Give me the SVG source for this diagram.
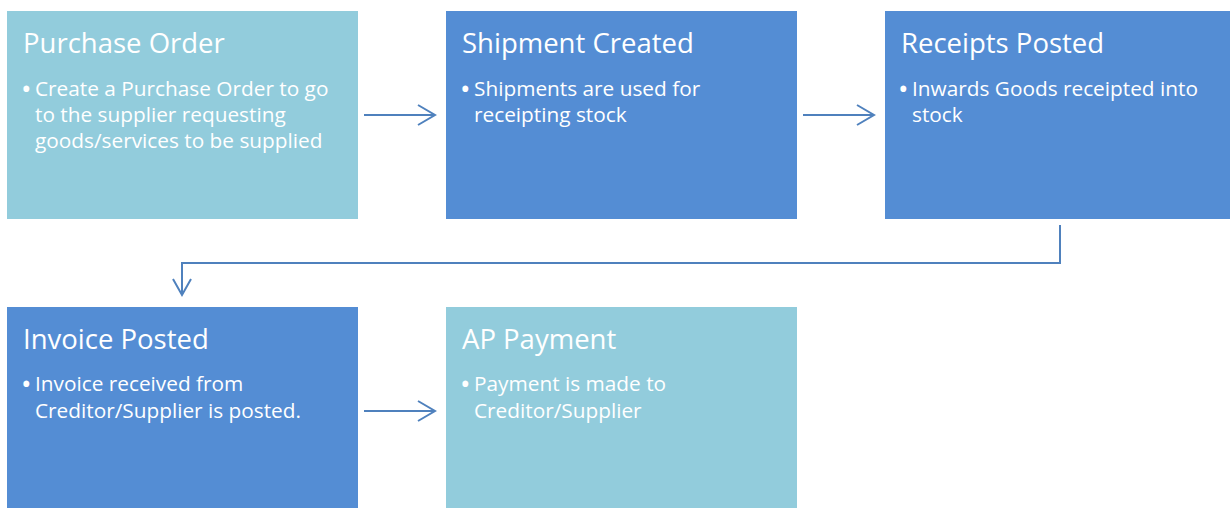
<svg xmlns="http://www.w3.org/2000/svg" width="1230" height="508" viewBox="0 0 1230 508">
<style>
.light{fill:#92CCDC}
.blue{fill:#548DD4}
.title{font-family:"Open Sans","Liberation Sans",sans-serif;font-size:27.5px;fill:#fff}
.body{font-family:"Open Sans","Liberation Sans",sans-serif;font-size:20.8px;fill:#fff}
.bullet{font-family:"Open Sans","Liberation Sans",sans-serif;font-size:28px;fill:#fff}
.conn{fill:none;stroke:#4F81BD;stroke-width:2}
</style>
<rect width="1230" height="508" fill="#fff"/>
<g id="purchase-order">
<rect class="light" x="7" y="11" width="351" height="208"/>
<text class="title" x="23" y="53">Purchase Order</text>
<text class="bullet" x="21" y="98.5">•</text>
<text class="body" x="35" y="96">Create a Purchase Order to go</text>
<text class="body" x="35" y="122">to the supplier requesting</text>
<text class="body" x="35" y="148">goods/services to be supplied</text>
</g>
<g id="shipment-created">
<rect class="blue" x="446" y="11" width="351" height="208"/>
<text class="title" x="462" y="53">Shipment Created</text>
<text class="bullet" x="460" y="98.5">•</text>
<text class="body" x="474" y="96">Shipments are used for</text>
<text class="body" x="474" y="122">receipting stock</text>
</g>
<g id="receipts-posted">
<rect class="blue" x="885" y="11" width="351" height="208"/>
<text class="title" x="901" y="53">Receipts Posted</text>
<text class="bullet" x="898" y="98.5">•</text>
<text class="body" x="912" y="96">Inwards Goods receipted into</text>
<text class="body" x="912" y="122">stock</text>
</g>
<g id="invoice-posted">
<rect class="blue" x="7" y="307" width="351" height="208"/>
<text class="title" x="23" y="349">Invoice Posted</text>
<text class="bullet" x="21" y="393.5">•</text>
<text class="body" x="35" y="391">Invoice received from</text>
<text class="body" x="35" y="418">Creditor/Supplier is posted.</text>
</g>
<g id="ap-payment">
<rect class="light" x="446" y="307" width="351" height="208"/>
<text class="title" x="462" y="349">AP Payment</text>
<text class="bullet" x="460" y="393.5">•</text>
<text class="body" x="474" y="391">Payment is made to</text>
<text class="body" x="474" y="418">Creditor/Supplier</text>
</g>
<g id="connectors">
<path class="conn" d="M364 115H435M418 105L435 115L418 125"/>
<path class="conn" d="M803 115H874M857 105L874 115L857 125"/>
<path class="conn" d="M1060 225V263H182V295M173 279L182 295L191 279"/>
<path class="conn" d="M364 411H435M418 401L435 411L418 421"/>
</g>
</svg>
